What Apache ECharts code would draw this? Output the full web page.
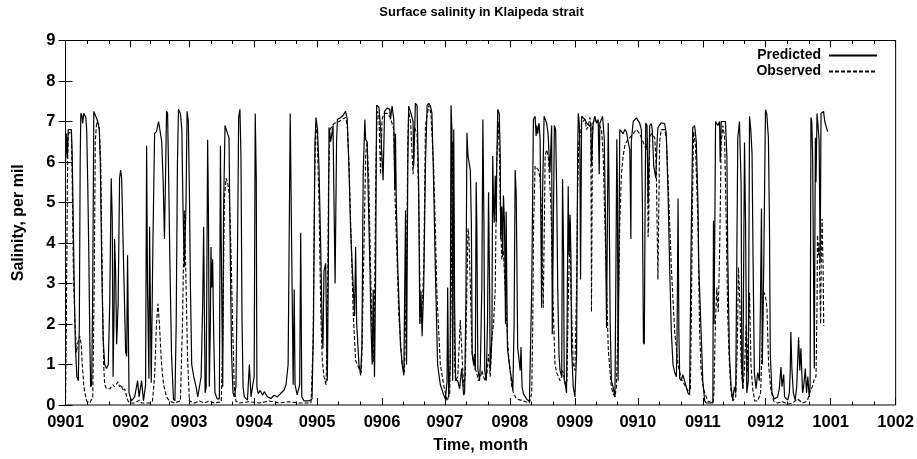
<!DOCTYPE html>
<html><head><meta charset="utf-8">
<script src="https://cdn.jsdelivr.net/npm/echarts@6/dist/echarts.min.js"></script>
<style>html,body{margin:0;padding:0;background:#fff}#c{width:917px;height:459px}</style>
</head><body><div id="c"></div>
<script>
// Days since 2009-01-01 at which each month starts, and their tick labels
const monthStart = [0,31,59,90,120,151,181,212,243,273,304,334,365,396];
const monthLabel = ['0901','0902','0903','0904','0905','0906','0907','0908','0909','0910','0911','0912','1001','1002'];
const salinityMin = 0, salinityMax = 9, salinityStep = 1;

// [day since 2009-01-01, salinity per mil]
const predicted = [[0,5.9],[0.4,6.7],[0.9,6.1],[1.3,6.8],[2.8,6.8],[3.2,6.2],[3.7,4.5],[4.2,2.8],[4.7,1.5],[5.4,0.7],[6.1,0.6],[6.6,2.0],[7.0,6.0],[7.3,7.2],[7.8,7.15],[8.2,6.95],[8.7,7.2],[9.7,7.1],[10.1,6.8],[10.6,5.5],[11.1,3.8],[11.6,1.6],[12.0,0.45],[12.5,0.5],[13.0,3.0],[13.5,7.25],[14.4,7.25],[15.4,7.0],[16.1,6.8],[16.6,6.0],[17.0,4.5],[17.5,2.8],[18.0,1.6],[18.7,1.0],[19.6,0.9],[20.4,1.0],[21.1,2.5],[21.8,5.6],[22.3,4.6],[22.7,0.7],[23.2,2.5],[23.4,4.1],[23.9,3.3],[24.4,1.5],[25.1,2.5],[25.8,5.6],[26.3,5.8],[26.8,5.6],[27.7,3.5],[28.7,1.3],[29.2,1.2],[29.6,3.7],[30.3,0.3],[31.5,0.1],[33.0,0.2],[34.4,0.6],[35.1,0.2],[36.3,0.6],[37.2,0.1],[38.2,0.5],[38.7,6.4],[39.1,3.0],[39.8,0.65],[40.1,4.4],[40.9,0.55],[41.7,4.0],[42.5,6.7],[43.4,6.75],[44.4,7.0],[45.3,7.0],[45.9,6.5],[46.6,5.5],[47.2,4.1],[47.7,5.6],[48.2,7.25],[48.7,7.2],[49.1,6.0],[49.8,3.5],[50.6,1.2],[51.5,0.15],[52.2,0.1],[52.8,2.0],[53.4,6.0],[53.9,7.3],[54.8,7.2],[55.5,6.8],[56.0,5.0],[56.7,3.4],[57.5,5.0],[58.0,7.25],[58.6,7.0],[59.1,5.3],[59.6,2.9],[60.2,1.0],[61.2,0.7],[62.3,0.45],[63.1,0.2],[63.9,0.45],[64.7,0.7],[65.4,2.4],[65.9,4.4],[66.6,0.3],[67.1,0.45],[67.4,2.9],[67.8,6.55],[68.2,4.7],[68.6,0.45],[69.1,2.0],[69.4,3.9],[69.8,2.9],[70.2,3.6],[70.7,1.7],[71.3,0.3],[72.4,0.15],[73.4,0.15],[73.9,6.4],[74.3,3.9],[75.0,0.45],[75.4,4.8],[76.1,6.9],[76.7,6.8],[77.3,6.7],[78.0,6.6],[78.6,3.7],[79.2,1.3],[79.9,0.3],[80.5,0.2],[81.3,0.45],[81.9,2.9],[82.6,7.1],[83.2,7.3],[83.7,6.15],[84.2,2.1],[84.7,0.45],[85.3,0.2],[86.8,0.12],[87.7,1.0],[88.5,0.2],[89.2,0.45],[90.0,0.7],[90.5,7.2],[91.0,5.6],[91.3,0.45],[91.9,0.28],[92.9,0.36],[94.0,0.24],[94.8,0.33],[96.4,0.2],[98.0,0.16],[99.5,0.24],[101.1,0.2],[102.7,0.29],[104.3,0.37],[105.2,0.5],[106.2,1.0],[107.2,7.2],[107.8,4.3],[108.6,0.5],[109.1,2.85],[109.5,0.5],[110.5,0.25],[111.7,0.5],[112.2,4.25],[112.7,0.2],[113.8,0.1],[116.2,0.1],[117.6,0.15],[118.3,2.0],[119.0,6.5],[119.5,7.1],[120.2,6.8],[120.9,5.9],[121.7,4.0],[122.4,2.0],[122.8,1.4],[123.3,3.3],[124.1,3.5],[124.9,0.6],[125.4,3.5],[125.7,6.85],[126.5,6.5],[127.1,6.7],[127.6,6.9],[128.6,3.0],[129.3,6.5],[129.7,7.05],[131.3,7.1],[132.4,7.15],[133.6,7.25],[134.4,7.05],[135.2,5.9],[135.9,4.5],[136.8,3.4],[137.9,2.2],[138.4,3.9],[138.9,2.0],[140.0,1.0],[140.8,0.73],[141.4,1.5],[142.0,5.7],[142.8,7.05],[143.2,6.55],[143.9,6.5],[144.5,5.0],[145.2,3.4],[145.8,1.8],[146.3,1.0],[146.8,2.85],[147.4,0.7],[147.9,3.0],[148.4,7.4],[149.5,7.35],[150.3,6.85],[151.5,5.55],[152.2,7.25],[153.4,7.33],[154.7,7.3],[155.0,7.05],[155.8,7.38],[156.6,7.05],[157.1,5.3],[157.4,6.7],[157.8,5.0],[158.5,3.4],[159.8,1.47],[160.6,1.0],[161.4,0.73],[162.2,4.8],[162.7,1.0],[163.3,6.0],[163.7,7.38],[164.8,7.2],[165.8,7.0],[166.1,5.9],[166.9,7.45],[167.7,7.4],[168.5,5.3],[169.0,2.0],[169.6,2.8],[170.1,1.7],[170.9,2.95],[171.7,5.9],[172.5,7.4],[173.3,7.45],[174.1,7.38],[174.8,7.2],[175.6,5.5],[176.4,3.4],[177.5,1.0],[178.8,0.5],[180.4,0.25],[181.2,0.15],[182.0,0.57],[182.3,2.9],[182.8,0.2],[183.5,1.0],[183.9,7.4],[184.3,6.85],[184.7,0.6],[185.2,6.8],[185.6,2.5],[186.1,0.6],[187.1,0.6],[188.0,0.4],[189.0,0.9],[189.9,0.25],[190.4,0.3],[191.0,2.5],[191.5,6.72],[192.0,6.15],[192.4,6.15],[193.1,5.8],[193.6,4.5],[194.0,1.26],[194.7,1.0],[195.1,1.26],[195.5,0.85],[195.9,5.5],[196.2,4.5],[196.7,0.9],[197.5,0.6],[197.9,1.0],[198.6,2.9],[199.1,7.05],[199.6,4.5],[200.0,0.85],[200.7,0.6],[201.3,2.0],[201.8,5.25],[202.3,2.9],[202.6,0.85],[203.4,1.67],[203.8,6.15],[204.2,4.9],[204.5,4.5],[205.0,5.66],[205.5,4.5],[205.7,5.9],[206.2,7.3],[206.9,7.2],[207.4,6.15],[207.6,4.1],[208.1,4.9],[208.6,3.7],[208.9,5.17],[209.4,4.5],[209.9,2.0],[210.2,4.77],[210.8,1.43],[211.5,1.1],[212.1,0.85],[212.9,0.6],[213.4,0.37],[214.0,2.0],[214.5,5.8],[215.0,5.2],[215.3,3.7],[215.7,1.43],[216.5,1.43],[216.9,0.85],[217.3,1.43],[217.8,0.45],[218.4,0.28],[219.9,0.15],[221.3,0.08],[221.9,0.12],[222.4,2.9],[223.2,7.05],[224.0,7.13],[224.5,6.64],[224.8,6.9],[225.2,6.7],[225.9,6.96],[226.4,6.56],[226.9,3.7],[227.1,2.4],[227.6,5.3],[228.3,7.13],[228.9,7.05],[229.5,6.96],[230.2,6.7],[230.7,6.15],[231.1,5.74],[231.6,6.5],[231.9,6.9],[232.2,1.75],[233.2,6.9],[233.8,6.8],[234.3,5.3],[234.8,2.9],[235.4,1.26],[235.9,0.85],[236.7,0.7],[237.1,5.58],[237.6,3.7],[237.9,0.6],[238.6,0.45],[239.0,0.3],[239.8,5.4],[240.2,3.7],[240.7,4.7],[241.1,3.7],[241.4,1.4],[242.2,0.45],[243.0,0.2],[243.8,1.26],[244.3,6.15],[244.6,7.2],[245.1,6.96],[245.4,6.15],[245.7,3.1],[246.2,7.13],[247.0,7.13],[247.8,7.05],[248.6,6.96],[249.4,6.96],[250.2,6.88],[250.6,6.96],[250.9,5.9],[251.7,6.96],[252.5,7.13],[253.3,6.96],[254.1,7.05],[254.6,5.7],[254.9,6.96],[255.7,6.96],[256.2,7.13],[257.0,6.56],[257.6,4.5],[258.1,1.9],[258.5,4.5],[258.9,6.96],[259.3,5.3],[259.8,2.1],[260.4,0.6],[261.2,0.45],[262.1,0.2],[262.5,2.9],[263.0,6.56],[263.3,5.3],[263.6,0.6],[264.4,6.8],[265.2,6.75],[266.0,6.7],[266.8,6.8],[267.6,6.75],[268.4,6.5],[269.2,6.3],[269.7,4.1],[269.9,6.5],[270.8,7.0],[271.6,7.0],[272.3,7.09],[273.1,7.13],[273.9,6.96],[274.7,6.8],[275.2,5.0],[275.7,1.55],[276.1,1.5],[276.5,5.0],[276.8,6.96],[277.4,6.9],[277.9,4.97],[278.7,6.9],[279.5,6.95],[279.9,6.8],[280.6,5.9],[281.6,5.6],[282.2,6.5],[282.6,6.85],[284.2,6.97],[285.0,7.0],[285.8,6.95],[286.6,6.7],[287.4,5.3],[288.2,3.4],[289.0,1.8],[289.8,1.0],[290.6,0.8],[291.4,0.7],[291.7,1.5],[292.2,5.1],[292.6,1.8],[293.0,0.65],[293.7,0.6],[294.5,0.75],[295.3,0.6],[296.1,0.45],[296.9,0.3],[297.7,0.25],[298.5,4.25],[299.2,6.85],[300.1,6.9],[300.9,6.5],[301.7,5.0],[302.1,3.4],[303.2,1.8],[304.0,0.6],[304.9,0.1],[305.6,0.05],[308.8,0.05],[309.1,4.55],[309.4,2.0],[310.1,7.0],[311.2,6.9],[312.0,7.0],[312.3,6.0],[312.8,7.0],[313.6,6.96],[314.8,7.0],[315.5,6.15],[315.9,3.7],[316.7,1.26],[317.5,0.45],[318.3,0.13],[319.1,0.45],[319.7,0.3],[320.2,3.4],[320.7,6.6],[321.5,7.0],[322.3,5.4],[322.6,1.0],[323.1,0.4],[323.9,6.48],[324.4,4.5],[325.0,0.3],[325.7,0.6],[326.3,7.13],[326.9,6.8],[327.5,6.2],[328.0,3.5],[328.6,0.8],[329.4,0.4],[330.2,0.8],[331.0,0.6],[331.5,2.5],[332.0,4.85],[332.4,1.0],[333.1,3.5],[333.9,7.29],[334.5,7.2],[335.3,6.6],[335.8,4.5],[336.2,1.26],[337.0,0.3],[338.1,0.15],[339.7,0.2],[340.5,0.4],[341.3,0.94],[341.8,0.45],[342.6,0.75],[343.0,0.2],[344.5,0.12],[345.3,0.3],[345.7,0.8],[346.0,1.8],[346.5,0.9],[347.2,0.3],[348.1,0.12],[348.8,0.45],[349.7,1.67],[350.3,0.85],[350.8,1.4],[351.6,0.3],[352.1,0.45],[352.9,0.9],[353.5,0.3],[354.1,0.7],[354.8,0.2],[355.2,0.5],[355.6,7.1],[356.0,7.0],[356.4,6.15],[357.2,0.9],[357.7,6.6],[358.0,5.5],[358.5,7.2],[359.5,6.55],[360.0,3.5],[360.4,7.2],[361.1,7.2],[361.6,7.25],[362.2,7.0],[363.0,6.85],[363.6,6.75]];

const observed = [[0,0],[0.4,2.0],[0.9,5.5],[1.3,6.7],[2.8,6.75],[3.2,5.5],[3.7,3.5],[4.4,2.2],[5.2,1.3],[6.1,1.6],[6.8,1.7],[7.5,1.5],[8.0,1.0],[8.7,0.5],[9.2,0.3],[10.1,0.1],[11.6,0.05],[13.0,0.2],[13.7,3.0],[14.2,6.5],[14.9,7.0],[16.1,6.9],[16.8,6.0],[17.3,4.0],[17.7,2.5],[18.2,1.0],[18.7,0.5],[19.6,0.4],[21.1,0.4],[22.6,0.5],[23.4,0.45],[25.0,0.57],[25.8,0.45],[26.6,0.5],[27.4,0.35],[28.2,0.4],[29.0,0.25],[29.8,0.1],[30.6,0.05],[33.0,0.05],[35.3,0.12],[36.3,0.05],[40.1,0.05],[41.5,0.1],[42.5,0.7],[43.4,2.0],[44.1,2.5],[44.8,2.0],[45.8,1.0],[46.8,0.5],[48.2,0.2],[49.6,0.1],[52.0,0.05],[54.8,0.1],[55.8,2.0],[56.7,4.8],[57.5,3.0],[58.2,1.2],[59.1,0.1],[61.5,0.05],[63.9,0.1],[66.2,0.05],[68.6,0.1],[71.0,0.05],[74.3,0.08],[75.0,1.5],[75.8,5.1],[76.6,5.6],[77.3,5.5],[78.1,5.2],[79.0,3.7],[79.7,2.0],[80.5,0.45],[81.3,0.1],[82.9,0.05],[87.7,0.08],[92.4,0.05],[97.2,0.1],[101.9,0.05],[106.7,0.08],[111.4,0.05],[117.1,0.05],[118.1,1.5],[118.8,5.5],[119.4,6.9],[120.0,6.7],[120.9,5.1],[121.8,2.2],[122.5,1.1],[123.3,0.7],[124.3,0.5],[124.9,2.0],[125.5,5.6],[126.2,6.8],[127.3,6.9],[128.1,6.95],[129.0,6.95],[130.5,7.0],[131.9,7.05],[133.6,7.1],[134.4,6.9],[135.2,6.0],[136.3,4.0],[137.3,2.2],[138.4,1.1],[140.0,0.9],[141.1,0.8],[141.5,1.5],[142.3,3.7],[143.2,6.2],[143.9,6.5],[144.7,5.5],[145.5,3.4],[146.3,1.6],[146.8,1.06],[147.4,2.5],[148.1,6.0],[148.7,7.25],[149.5,7.15],[150.3,5.7],[151.0,7.05],[151.9,7.2],[153.4,7.2],[155.0,7.1],[156.6,6.8],[157.1,5.3],[157.9,4.0],[159.0,2.2],[160.6,1.0],[161.7,0.8],[162.6,3.0],[163.3,6.5],[163.7,7.25],[164.6,7.0],[165.8,5.7],[166.5,6.85],[167.7,6.7],[168.5,5.0],[169.3,2.2],[169.9,2.0],[170.9,3.4],[171.7,6.9],[173.3,7.4],[174.3,7.2],[175.6,5.9],[176.4,4.4],[177.2,2.7],[178.8,1.0],[180.4,0.5],[182.0,0.1],[183.3,0.3],[184.0,3.0],[184.7,6.5],[185.2,5.0],[185.6,1.0],[186.1,0.6],[187.1,0.7],[188.0,1.7],[188.3,2.1],[189.1,1.3],[189.9,0.45],[190.7,0.7],[191.5,3.0],[192.0,4.36],[192.4,4.2],[193.1,3.0],[193.9,1.3],[194.7,1.0],[196.1,0.8],[197.0,0.6],[198.0,0.7],[198.6,0.85],[199.4,0.7],[200.2,0.6],[201.0,0.75],[201.8,1.26],[202.6,0.7],[203.4,1.67],[204.2,2.0],[205.0,2.9],[205.7,6.0],[206.4,7.0],[207.0,6.15],[207.4,4.9],[208.1,3.6],[208.9,3.8],[209.7,2.9],[210.5,2.0],[211.3,1.26],[212.1,0.85],[212.9,0.45],[213.7,0.3],[215.1,0.15],[218.4,0.1],[221.3,0.05],[222.4,0.3],[222.9,2.0],[223.3,4.5],[224.0,5.9],[224.8,5.9],[225.6,5.8],[226.4,5.6],[227.1,4.5],[227.6,3.0],[227.9,2.4],[228.3,4.0],[228.8,6.15],[229.5,6.3],[230.3,6.15],[231.1,6.15],[231.6,4.9],[232.2,3.2],[232.9,2.0],[233.5,1.0],[234.3,0.8],[235.9,0.6],[236.7,0.7],[237.1,0.85],[237.8,0.7],[238.6,0.5],[239.2,0.6],[239.8,2.5],[240.7,4.5],[241.1,2.9],[242.2,1.0],[243.0,0.85],[243.8,2.9],[244.3,5.3],[244.9,6.5],[245.7,6.7],[246.2,6.96],[247.0,6.96],[247.8,7.05],[248.6,6.8],[249.4,6.9],[250.2,7.1],[250.6,6.9],[250.9,2.3],[251.4,6.9],[251.7,6.96],[252.5,7.05],[254.1,6.96],[255.7,6.8],[256.5,6.15],[257.3,4.5],[258.1,2.9],[258.9,1.4],[259.7,0.85],[260.4,0.45],[261.2,0.28],[262.1,0.2],[262.8,0.45],[263.6,2.0],[264.4,4.5],[265.2,5.7],[266.0,6.15],[266.8,6.4],[267.6,6.5],[269.2,6.6],[269.9,6.6],[270.8,6.7],[272.3,6.8],[273.1,6.8],[273.9,6.7],[274.7,6.6],[275.5,6.5],[276.3,6.4],[277.1,6.3],[277.6,6.6],[277.9,4.15],[278.2,4.5],[278.7,6.6],[279.5,6.7],[281.1,6.6],[281.8,5.9],[282.6,3.1],[283.4,6.5],[284.2,6.8],[285.8,6.8],[286.6,6.6],[287.4,5.6],[289.0,3.4],[290.6,1.8],[292.2,1.0],[293.7,0.65],[295.3,0.5],[296.9,0.35],[298.1,0.4],[298.5,2.0],[299.1,5.0],[299.6,6.75],[300.5,6.4],[301.7,4.5],[302.5,1.8],[303.2,0.85],[304.0,0.5],[304.9,0.3],[306.4,0.1],[308.8,0.05],[309.3,0.3],[310.0,2.0],[310.7,2.9],[311.4,2.3],[312.1,4.0],[312.8,6.5],[313.6,6.9],[314.4,6.6],[315.2,4.5],[315.9,2.2],[316.7,1.0],[317.5,0.3],[318.3,0.1],[319.7,0.2],[320.5,1.5],[321.0,3.4],[321.7,2.5],[322.3,1.0],[323.1,0.4],[323.9,0.9],[324.7,2.0],[325.2,0.8],[326.3,2.77],[327.0,1.0],[327.8,0.4],[328.8,0.1],[330.2,0.1],[331.6,0.3],[332.3,1.5],[332.9,2.8],[333.9,2.7],[334.6,2.4],[335.4,1.0],[336.4,0.4],[337.8,0.1],[339.7,0.05],[342.1,0.08],[344.5,0.02],[346.8,0.05],[349.2,0.15],[351.6,0.05],[353.9,0.1],[355.0,0.3],[355.6,0.4],[356.3,0.45],[357.2,0.65],[358.0,0.7],[358.5,2.45],[358.7,4.2],[359.2,3.7],[359.5,4.0],[360.2,2.0],[360.5,3.5],[360.9,4.6],[361.4,3.4],[361.7,1.95]];

// Minor ticks: month split in thirds
const minorTicks = [];
for (let i = 0; i < monthStart.length - 1; i++) {
  const a = monthStart[i], b = monthStart[i + 1];
  minorTicks.push(a + (b - a) / 3, a + 2 * (b - a) / 3);
}

const FONT = '"Liberation Sans", Arial, Helvetica, sans-serif';
const txt = {fontFamily: FONT, fontWeight: 'bold', color: '#000'};
const xMin = monthStart[0], xMax = monthStart[monthStart.length - 1];

function xAx(pos, ticks, len, labels) {
  const a = {
    type: 'value', min: xMin, max: xMax, position: pos,
    axisLine: {show: false}, splitLine: {show: false},
    axisTick: {show: true, inside: true, length: len, customValues: ticks, lineStyle: {color: '#000', width: 1}},
    axisLabel: {show: false}
  };
  if (labels) {
    a.axisLabel = Object.assign({show: true, customValues: monthStart, fontSize: 16.5, margin: 9,
      formatter: v => monthLabel[monthStart.indexOf(v)]}, txt);
    a.name = 'Time, month';
    a.nameLocation = 'middle';
    a.nameGap = 33;
    a.nameTextStyle = Object.assign({fontSize: 16}, txt);
  }
  return a;
}

const chart = echarts.init(document.getElementById('c'), null, {renderer: 'canvas'});
chart.setOption({
  animation: false,
  backgroundColor: '#fff',
  title: {
    text: 'Surface salinity in Klaipeda strait',
    left: 481.5, top: 6, textAlign: 'center', padding: 0,
    textStyle: Object.assign({fontSize: 13}, txt)
  },
  grid: {left: 65.5, top: 40.5, width: 833, height: 368, show: true, borderColor: '#000', borderWidth: 1, backgroundColor: 'transparent'},
  legend: {
    right: 39, top: 47.5, orient: 'vertical', align: 'right', padding: 0,
    itemWidth: 48, itemHeight: 14, itemGap: 0,
    itemStyle: {opacity: 0, color: 'rgba(0,0,0,0)', borderWidth: 0},
    textStyle: Object.assign({fontSize: 14, lineHeight: 16, padding: [0, 3, 0, 0]}, txt),
    data: ['Predicted', 'Observed']
  },
  xAxis: [
    xAx('bottom', monthStart, 7, true),
    xAx('bottom', minorTicks, 3.5, false),
    xAx('top', monthStart, 7, false),
    xAx('top', minorTicks, 3.5, false)
  ],
  yAxis: [
    {
      type: 'value', min: salinityMin, max: salinityMax, interval: salinityStep, position: 'left',
      axisLine: {show: false}, splitLine: {show: false},
      axisTick: {inside: true, length: 7, lineStyle: {color: '#000'}},
      axisLabel: Object.assign({fontSize: 16.5, margin: 10}, txt),
      name: 'Salinity, per mil', nameLocation: 'middle', nameGap: 39,
      nameTextStyle: Object.assign({fontSize: 16}, txt)
    },
    {
      type: 'value', min: salinityMin, max: salinityMax, interval: salinityStep, position: 'right',
      axisLine: {show: false}, splitLine: {show: false},
      axisTick: {inside: true, length: 7, lineStyle: {color: '#000'}},
      axisLabel: {show: false}
    }
  ],
  series: [
    {
      name: 'Predicted', type: 'line', data: predicted, xAxisIndex: 0, yAxisIndex: 0,
      symbol: 'none', showSymbol: false, z: 2,
      lineStyle: {color: '#000', width: 1.2}, itemStyle: {color: '#000'}
    },
    {
      name: 'Observed', type: 'line', data: observed, xAxisIndex: 0, yAxisIndex: 0,
      symbol: 'none', showSymbol: false, z: 3,
      lineStyle: {color: '#000', width: 1.1, type: [4, 2]}, itemStyle: {color: '#000'}
    }
  ]
});
</script>
</body></html>
